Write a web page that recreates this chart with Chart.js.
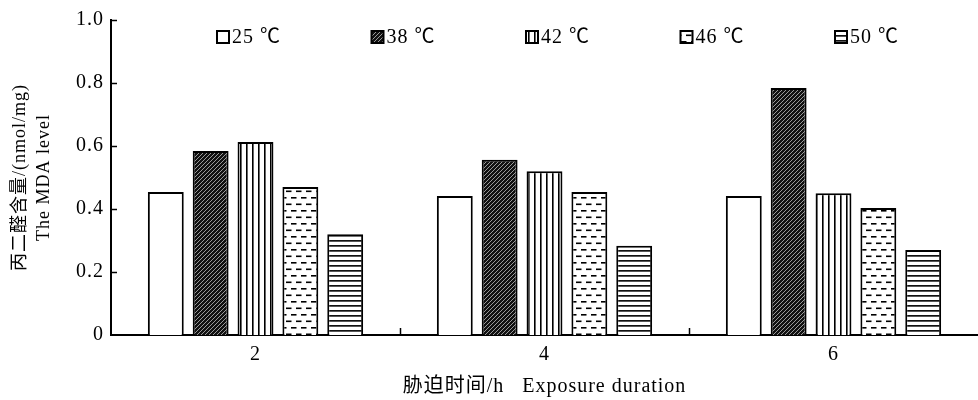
<!DOCTYPE html>
<html><head><meta charset="utf-8">
<script src="https://cdn.jsdelivr.net/npm/chart.js@4/dist/chart.umd.min.js"></script>
<style>html,body{margin:0;padding:0;background:#fff}</style>
</head><body>
<canvas id="c" width="978" height="400"></canvas>
<script>
const categories = ['2', '4', '6'];
const seriesLabels = ['25 ℃', '38 ℃', '42 ℃', '46 ℃', '50 ℃'];
const v25 = [0.454, 0.441, 0.441];
const v38 = [0.584, 0.556, 0.784];
const v42 = [0.613, 0.520, 0.450];
const v46 = [0.470, 0.454, 0.403];
const v50 = [0.320, 0.283, 0.270];
const yTickValues = [0, 0.2, 0.4, 0.6, 0.8, 1.0];
const yTitle = ['丙二醛含量/(nmol/mg)', 'The MDA level'];
const xTitle = '胁迫时间/h   Exposure duration';

const FONT = "'Liberation Serif','Noto Sans CJK SC',serif";

function mk(w, h, draw) {
  const c = document.createElement('canvas');
  c.width = w; c.height = h;
  const g = c.getContext('2d');
  draw(g, w, h);
  return g.createPattern(c, 'repeat');
}
const pWhite = '#ffffff';
const pDiag = mk(4, 4, (g, w, h) => {
  g.fillStyle = '#111'; g.fillRect(0, 0, w, h);
  g.strokeStyle = '#9a9a9a'; g.lineWidth = 1;
  g.beginPath();
  g.moveTo(-1, 5); g.lineTo(5, -1);
  g.moveTo(-1, 1); g.lineTo(1, -1);
  g.moveTo(3, 5); g.lineTo(5, 3);
  g.stroke();
});
const pVert = mk(6, 6, (g, w, h) => {
  g.fillStyle = '#fff'; g.fillRect(0, 0, w, h);
  g.fillStyle = '#000'; g.fillRect(0, 0, 1.6, h);
});
const pDash = mk(10, 13, (g, w, h) => {
  g.fillStyle = '#fff'; g.fillRect(0, 0, w, h);
  g.fillStyle = '#000';
  g.fillRect(1, 2, 5.5, 1.6);
  g.fillRect(6, 8.5, 4, 1.6);
  g.fillRect(0, 8.5, 1.5, 1.6);
});
const pHoriz = mk(5, 5, (g, w, h) => {
  g.fillStyle = '#fff'; g.fillRect(0, 0, w, h);
  g.fillStyle = '#111'; g.fillRect(0, 0, w, 1.7);
});
const fills = [pWhite, pDiag, pVert, pDash, pHoriz];
const seriesValues = [v25, v38, v42, v46, v50];

const datasets = seriesValues.map((vals, i) => ({
  label: seriesLabels[i],
  data: vals,
  backgroundColor: fills[i],
  borderColor: '#000',
  borderWidth: 2,
  borderSkipped: 'bottom',
  categoryPercentage: 0.776,
  barPercentage: 0.8
}));

const spacingPlugin = {
  id: 'spacing',
  beforeDraw(chart) { chart.ctx.letterSpacing = '1px'; }
};

const marksPlugin = {
  id: 'marks',
  afterDatasetsDraw(chart) {
    const ctx = chart.ctx;
    const ca = chart.chartArea;
    const y = chart.scales.y, x = chart.scales.x;
    ctx.save();
    ctx.strokeStyle = '#000';
    ctx.lineWidth = 1.5;
    yTickValues.forEach(v => {
      if (v === 0) return;
      const py = Math.round(y.getPixelForValue(v)) + 0.5;
      ctx.beginPath(); ctx.moveTo(ca.left, py); ctx.lineTo(ca.left + 6, py); ctx.stroke();
    });
    for (let i = 1; i < categories.length; i++) {
      const px = Math.round((x.getPixelForValue(i - 1) + x.getPixelForValue(i)) / 2) + 0.5;
      ctx.beginPath(); ctx.moveTo(px, ca.bottom); ctx.lineTo(px, ca.bottom - 7); ctx.stroke();
    }
    const startX = ca.left + 106, step = 154.5, cy = 37, box = 12;
    ctx.font = '20px ' + FONT;
    ctx.textBaseline = 'middle';
    ctx.textAlign = 'left';
    seriesLabels.forEach((lab, i) => {
      const bx = startX + i * step;
      ctx.fillStyle = fills[i];
      ctx.fillRect(bx, cy - box / 2, box, box);
      ctx.lineWidth = 2;
      ctx.strokeStyle = '#000';
      ctx.strokeRect(bx, cy - box / 2, box, box);
      ctx.fillStyle = '#000';
      ctx.fillText(lab, bx + box + 3, cy + 1);
    });
    ctx.restore();
  }
};

new Chart(document.getElementById('c'), {
  type: 'bar',
  data: { labels: categories, datasets },
  plugins: [spacingPlugin, marksPlugin],
  options: {
    responsive: false,
    animation: false,
    devicePixelRatio: 1,
    layout: { padding: { top: 20, right: 0, left: 0, bottom: 0 } },
    plugins: { legend: { display: false }, tooltip: { enabled: false } },
    scales: {
      x: {
        offset: true,
        grid: { display: false, drawTicks: false },
        border: { display: true, color: '#000', width: 2 },
        ticks: { color: '#000', font: { family: FONT, size: 20 }, padding: 8 },
        title: { display: true, text: xTitle, color: '#000', font: { family: FONT, size: 20 }, padding: { top: 0, bottom: 1 } },
        afterFit(s) { s.height = 65; }
      },
      y: {
        min: 0, max: 1,
        afterBuildTicks(s) { s.ticks = yTickValues.map(v => ({ value: v })); },
        grid: { display: false, drawTicks: false },
        border: { display: true, color: '#000', width: 2 },
        ticks: {
          color: '#000', font: { family: FONT, size: 20 }, padding: 7,
          callback: v => v === 0 ? '0' : v.toFixed(1)
        },
        title: { display: true, text: yTitle, color: '#000', font: { family: FONT, size: 18, lineHeight: 1.3 }, padding: { top: 9, bottom: 0 } },
        afterFit(s) { s.width = 111; }
      }
    }
  }
});
</script>
</body></html>
